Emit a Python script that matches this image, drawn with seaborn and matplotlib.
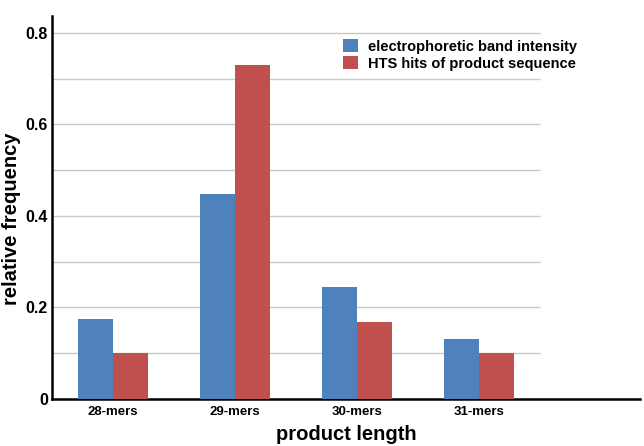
import matplotlib
matplotlib.use("Agg")
import matplotlib.pyplot as plt
import seaborn as sns
import pandas as pd

categories = ["28-mers", "29-mers", "30-mers", "31-mers"]
series_names = ["electrophoretic band intensity", "HTS hits of product sequence"]
band_intensity = [0.175, 0.448, 0.244, 0.131]
hts_hits = [0.100, 0.731, 0.168, 0.100]
y_ticks = [0, 0.2, 0.4, 0.6, 0.8]
y_tick_labels = ["0", "0.2", "0.4", "0.6", "0.8"]
grid_levels = [0.1, 0.2, 0.3, 0.4, 0.5, 0.6, 0.7, 0.8]
colors = ["#4F81BD", "#C0504D"]

df = pd.DataFrame({
    "length": categories * 2,
    "value": band_intensity + hts_hits,
    "series": [series_names[0]] * 4 + [series_names[1]] * 4,
})

sns.set_theme(style="white")
plt.rcParams["font.family"] = ["Liberation Sans", "DejaVu Sans"]
plt.rcParams["text.color"] = "black"
plt.rcParams["axes.labelcolor"] = "black"
plt.rcParams["xtick.color"] = "black"
plt.rcParams["ytick.color"] = "black"

fig = plt.figure(figsize=(6.44, 4.46), dpi=100)
ax = fig.add_axes([52 / 644, 47 / 446, 588 / 644, 383 / 446])

sns.barplot(data=df, x="length", y="value", hue="series", order=categories,
            hue_order=series_names, palette=colors, width=0.575, gap=0,
            saturation=1, ax=ax, zorder=3, edgecolor="none", linewidth=0)

ax.hlines(grid_levels, -0.5, 3.5, colors="#c8c8c8", linewidth=1, zorder=1)

ax.set_xlim(-0.5, 4.32)
ax.set_ylim(0, 0.837)

ax.set_yticks(y_ticks)
ax.set_yticklabels(y_tick_labels, fontsize=11.5, fontweight="bold")
ax.tick_params(axis="y", length=0, pad=3)

ax.set_xticks(range(len(categories)))
ax.set_xticklabels(categories, fontsize=9.5, fontweight="bold")
ax.set_xticks([-0.5, 0.5, 1.5, 2.5, 3.5], minor=True)
ax.tick_params(axis="x", which="major", length=0, pad=5)
ax.tick_params(axis="x", which="minor", length=4, color="#bbbbbb", width=0.8, direction="out")

for side in ["top", "right"]:
    ax.spines[side].set_visible(False)
for side in ["left", "bottom"]:
    ax.spines[side].set_color("black")
    ax.spines[side].set_linewidth(1.8)

ax.set_xlabel("product length", fontsize=14.5, fontweight="bold", labelpad=5)
ax.set_ylabel("relative frequency", fontsize=14.5, fontweight="bold")
ax.yaxis.set_label_coords(-0.052, 0.47)

ax.legend(loc="upper left", bbox_to_anchor=(336 / 644, 1 - 32 / 446),
          bbox_transform=fig.transFigure, frameon=False,
          prop={"weight": "bold", "size": 10.5}, handlelength=1.0, handleheight=1.0,
          handletextpad=0.7, labelspacing=0.15, borderpad=0)

fig.savefig("out.png", dpi=100)
